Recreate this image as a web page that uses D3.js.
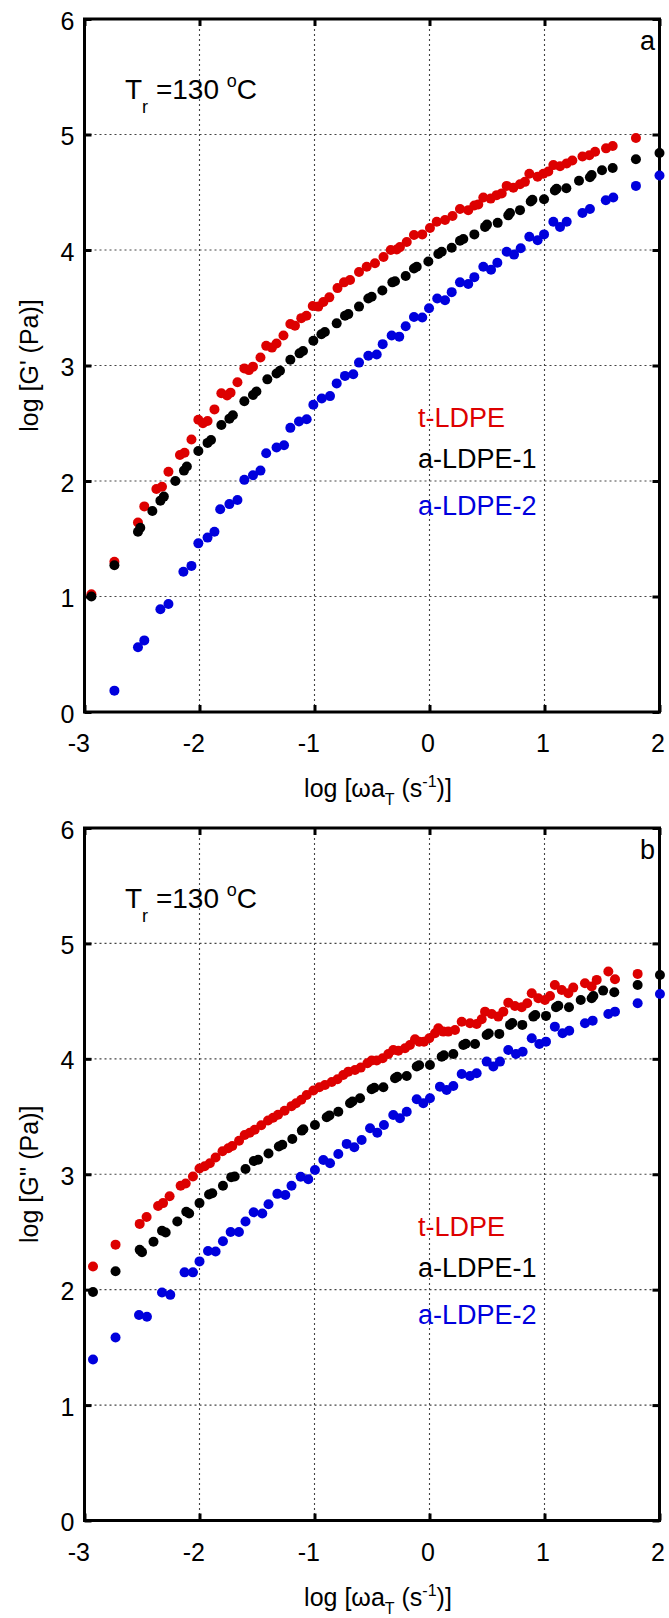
<!DOCTYPE html>
<html><head><meta charset="utf-8">
<script src="https://cdn.jsdelivr.net/npm/d3@7/dist/d3.min.js"></script>
<style>body{margin:0;background:#fff} text{font-family:"Liberation Sans",Arial,Helvetica,sans-serif}</style>
</head><body><svg id="c" width="669" height="1618"></svg>
<script>
// ---- axes / labels ----
const xTicks = [-3, -2, -1, 0, 1, 2];
const yTicks = [0, 1, 2, 3, 4, 5, 6];
const seriesNames = ["t-LDPE", "a-LDPE-1", "a-LDPE-2"];
const seriesColors = ["#dd0000", "#000000", "#0000dd"];
const panelLetters = ["a", "b"];
const yTitles = ["log [G' (Pa)]", "log [G'' (Pa)]"];

// ---- panel a: G' ----
const gp_tLDPE = [[-2.94,1.02],[-2.74,1.30],[-2.535,1.64],[-2.48,1.78],[-2.375,1.93],[-2.326,1.95],[-2.27,2.08],[-2.17,2.225],[-2.13,2.245],[-2.07,2.36],[-2.01,2.53],[-1.97,2.50],[-1.93,2.52],[-1.87,2.62],[-1.81,2.76],[-1.76,2.74],[-1.73,2.765],[-1.67,2.855],[-1.61,2.975],[-1.57,2.96],[-1.535,2.99],[-1.47,3.07],[-1.42,3.17],[-1.37,3.155],[-1.33,3.19],[-1.27,3.26],[-1.21,3.36],[-1.17,3.345],[-1.115,3.41],[-1.07,3.43],[-1.015,3.515],[-0.967,3.51],[-0.923,3.55],[-0.871,3.59],[-0.80,3.67],[-0.743,3.72],[-0.691,3.74],[-0.613,3.81],[-0.546,3.855],[-0.474,3.885],[-0.40,3.94],[-0.337,4.0],[-0.285,4.005],[-0.257,4.025],[-0.198,4.07],[-0.135,4.13],[-0.063,4.135],[0.004,4.19],[0.063,4.245],[0.135,4.26],[0.20,4.295],[0.265,4.355],[0.337,4.345],[0.39,4.385],[0.424,4.395],[0.468,4.455],[0.532,4.445],[0.584,4.475],[0.628,4.49],[0.671,4.555],[0.729,4.54],[0.787,4.57],[0.83,4.59],[0.868,4.66],[0.94,4.635],[0.99,4.66],[1.033,4.68],[1.077,4.735],[1.135,4.725],[1.193,4.75],[1.242,4.775],[1.33,4.81],[1.39,4.82],[1.44,4.85],[1.535,4.88],[1.593,4.90],[1.795,4.97]];
const gp_aLDPE1 = [[-2.94,1.00],[-2.74,1.27],[-2.535,1.56],[-2.515,1.595],[-2.41,1.74],[-2.34,1.83],[-2.31,1.865],[-2.21,2.0],[-2.135,2.09],[-2.11,2.125],[-2.01,2.26],[-1.93,2.33],[-1.90,2.355],[-1.81,2.485],[-1.74,2.54],[-1.71,2.57],[-1.61,2.69],[-1.535,2.745],[-1.505,2.775],[-1.41,2.88],[-1.33,2.93],[-1.30,2.955],[-1.21,3.05],[-1.13,3.105],[-1.10,3.125],[-1.01,3.215],[-0.94,3.27],[-0.91,3.29],[-0.807,3.365],[-0.735,3.43],[-0.706,3.445],[-0.613,3.51],[-0.532,3.58],[-0.503,3.595],[-0.41,3.65],[-0.323,3.72],[-0.30,3.73],[-0.207,3.775],[-0.135,3.84],[-0.111,3.855],[-0.01,3.90],[0.077,3.965],[0.106,3.985],[0.193,4.02],[0.265,4.08],[0.294,4.095],[0.39,4.135],[0.483,4.20],[0.50,4.22],[0.593,4.235],[0.685,4.30],[0.70,4.32],[0.787,4.345],[0.88,4.42],[0.895,4.435],[0.996,4.44],[1.09,4.515],[1.105,4.53],[1.19,4.535],[1.30,4.60],[1.395,4.63],[1.41,4.65],[1.50,4.69],[1.593,4.71],[1.795,4.785],[2.0,4.84]];
const gp_aLDPE2 = [[-2.74,0.185],[-2.535,0.56],[-2.48,0.62],[-2.34,0.89],[-2.27,0.935],[-2.14,1.215],[-2.07,1.265],[-2.01,1.46],[-1.93,1.51],[-1.87,1.56],[-1.82,1.755],[-1.74,1.80],[-1.67,1.835],[-1.61,2.01],[-1.535,2.05],[-1.47,2.09],[-1.42,2.24],[-1.33,2.29],[-1.265,2.31],[-1.21,2.46],[-1.135,2.515],[-1.068,2.535],[-1.01,2.66],[-0.937,2.715],[-0.865,2.735],[-0.807,2.845],[-0.735,2.91],[-0.663,2.925],[-0.613,3.025],[-0.532,3.085],[-0.459,3.095],[-0.407,3.185],[-0.329,3.26],[-0.263,3.25],[-0.207,3.34],[-0.135,3.42],[-0.063,3.415],[-0.004,3.495],[0.067,3.58],[0.135,3.565],[0.193,3.635],[0.265,3.72],[0.337,3.705],[0.39,3.765],[0.468,3.855],[0.535,3.83],[0.59,3.89],[0.671,3.985],[0.735,3.96],[0.793,4.015],[0.868,4.115],[0.94,4.085],[0.996,4.135],[1.077,4.245],[1.135,4.20],[1.193,4.245],[1.33,4.32],[1.395,4.355],[1.533,4.43],[1.598,4.455],[1.795,4.555],[2.0,4.645]];

// ---- panel b: G'' ----
const gpp_tLDPE = [[-2.926,2.20],[-2.73,2.39],[-2.52,2.57],[-2.46,2.63],[-2.36,2.725],[-2.317,2.75],[-2.26,2.81],[-2.164,2.90],[-2.12,2.92],[-2.057,2.98],[-2.0,3.05],[-1.955,3.07],[-1.91,3.095],[-1.86,3.145],[-1.80,3.20],[-1.75,3.225],[-1.715,3.245],[-1.656,3.29],[-1.607,3.34],[-1.563,3.36],[-1.52,3.385],[-1.463,3.425],[-1.404,3.465],[-1.36,3.49],[-1.317,3.515],[-1.26,3.55],[-1.20,3.59],[-1.16,3.615],[-1.115,3.645],[-1.068,3.687],[-1.01,3.725],[-0.958,3.754],[-0.909,3.774],[-0.85,3.80],[-0.80,3.823],[-0.75,3.86],[-0.706,3.889],[-0.648,3.904],[-0.598,3.924],[-0.54,3.962],[-0.503,3.985],[-0.459,3.985],[-0.407,4.005],[-0.358,4.042],[-0.315,4.077],[-0.271,4.071],[-0.213,4.092],[-0.17,4.12],[-0.126,4.17],[-0.089,4.149],[-0.048,4.149],[-0.002,4.178],[0.048,4.222],[0.077,4.265],[0.12,4.236],[0.163,4.236],[0.222,4.25],[0.28,4.322],[0.352,4.308],[0.41,4.302],[0.454,4.343],[0.483,4.409],[0.541,4.389],[0.598,4.366],[0.642,4.409],[0.685,4.487],[0.743,4.458],[0.802,4.447],[0.85,4.482],[0.889,4.568],[0.946,4.525],[1.004,4.51],[1.048,4.545],[1.09,4.64],[1.15,4.597],[1.207,4.568],[1.25,4.617],[1.352,4.655],[1.41,4.626],[1.454,4.684],[1.555,4.756],[1.613,4.69],[1.81,4.736]];
const gpp_aLDPE1 = [[-2.926,1.98],[-2.73,2.16],[-2.52,2.345],[-2.50,2.325],[-2.40,2.415],[-2.326,2.51],[-2.294,2.495],[-2.193,2.59],[-2.115,2.675],[-2.09,2.66],[-2.0,2.75],[-1.917,2.825],[-1.889,2.835],[-1.796,2.90],[-1.724,2.975],[-1.694,2.98],[-1.60,3.045],[-1.528,3.115],[-1.49,3.125],[-1.40,3.18],[-1.31,3.24],[-1.28,3.255],[-1.193,3.305],[-1.11,3.378],[-1.097,3.39],[-0.996,3.427],[-0.894,3.494],[-0.87,3.51],[-0.793,3.542],[-0.691,3.615],[-0.67,3.63],[-0.604,3.659],[-0.503,3.737],[-0.48,3.75],[-0.401,3.754],[-0.30,3.832],[-0.28,3.845],[-0.198,3.852],[-0.111,3.933],[-0.09,3.945],[0.004,3.947],[0.106,4.019],[0.125,4.03],[0.207,4.042],[0.294,4.12],[0.315,4.13],[0.396,4.129],[0.497,4.207],[0.515,4.22],[0.607,4.216],[0.70,4.294],[0.72,4.31],[0.807,4.294],[0.903,4.366],[0.92,4.38],[1.013,4.372],[1.10,4.447],[1.12,4.46],[1.213,4.447],[1.315,4.51],[1.41,4.525],[1.425,4.545],[1.51,4.591],[1.607,4.577],[1.81,4.64],[2.004,4.727]];
const gpp_aLDPE2 = [[-2.926,1.395],[-2.73,1.585],[-2.526,1.78],[-2.457,1.765],[-2.326,1.975],[-2.254,1.955],[-2.13,2.15],[-2.057,2.15],[-2.0,2.245],[-1.926,2.335],[-1.86,2.33],[-1.796,2.42],[-1.729,2.50],[-1.657,2.50],[-1.60,2.59],[-1.529,2.67],[-1.454,2.66],[-1.40,2.74],[-1.323,2.83],[-1.254,2.82],[-1.20,2.90],[-1.12,2.979],[-1.054,2.957],[-0.996,3.037],[-0.923,3.124],[-0.865,3.095],[-0.793,3.176],[-0.72,3.263],[-0.654,3.234],[-0.59,3.297],[-0.517,3.399],[-0.454,3.36],[-0.396,3.427],[-0.315,3.514],[-0.257,3.485],[-0.198,3.542],[-0.111,3.65],[-0.054,3.615],[0.004,3.659],[0.091,3.759],[0.149,3.73],[0.207,3.765],[0.28,3.869],[0.352,3.852],[0.41,3.875],[0.497,3.976],[0.555,3.933],[0.613,3.976],[0.685,4.077],[0.752,4.042],[0.81,4.062],[0.889,4.178],[0.955,4.129],[1.013,4.149],[1.09,4.279],[1.157,4.222],[1.215,4.244],[1.352,4.308],[1.419,4.331],[1.555,4.389],[1.613,4.409],[1.81,4.482],[2.004,4.562]];

const panels = [
  {top: 19, bottom: 712, series: [gp_tLDPE, gp_aLDPE1, gp_aLDPE2]},
  {top: 828, bottom: 1520.5, series: [gpp_tLDPE, gpp_aLDPE1, gpp_aLDPE2]}
];

const svg = d3.select("#c");
const left = 84.5, right = 659.5;
const x = d3.scaleLinear().domain([xTicks[0], xTicks[xTicks.length-1]]).range([left, right]);
const fmt = d => String(d); // plain hyphen-minus as in the original

panels.forEach((p, pi) => {
  const y = d3.scaleLinear().domain([yTicks[0], yTicks[yTicks.length-1]]).range([p.bottom, p.top]);
  const g = svg.append("g");

  // grid
  g.selectAll(".gx").data(xTicks.slice(1, -1)).join("line")
    .attr("x1", d => x(d)).attr("x2", d => x(d)).attr("y1", p.top).attr("y2", p.bottom)
    .attr("stroke", "#444").attr("stroke-width", 1.1).attr("stroke-dasharray", "2,3");
  g.selectAll(".gy").data(yTicks.slice(1, -1)).join("line")
    .attr("y1", d => y(d)).attr("y2", d => y(d)).attr("x1", left).attr("x2", right)
    .attr("stroke", "#444").attr("stroke-width", 1.1).attr("stroke-dasharray", "2,3");

  // axes (ticks inward)
  const ax = (gen, tr) => {
    const a = g.append("g").attr("transform", tr).call(gen);
    a.select(".domain").remove();
    a.selectAll(".tick line").attr("stroke", "#000").attr("stroke-width", 3);
    return a;
  };
  const bx = ax(d3.axisBottom(x).tickValues(xTicks).tickSize(-7).tickFormat(fmt), `translate(0,${p.bottom})`);
  bx.selectAll("text").attr("font-size", 25).attr("fill", "#000").attr("text-anchor", "end")
    .attr("x", 5).attr("y", 40).attr("dy", 0).style("font-family", "'Liberation Sans',Arial,sans-serif");
  ax(d3.axisTop(x).tickValues(xTicks).tickSize(-7).tickFormat(""), `translate(0,${p.top})`);
  const ly = ax(d3.axisLeft(y).tickValues(yTicks).tickSize(-7).tickFormat(fmt), `translate(${left},0)`);
  ly.selectAll("text").attr("font-size", 25).attr("fill", "#000").attr("text-anchor", "end")
    .attr("x", -10).attr("dy", 10).style("font-family", "'Liberation Sans',Arial,sans-serif");
  ax(d3.axisRight(y).tickValues(yTicks).tickSize(-7).tickFormat(""), `translate(${right},0)`);

  // frame
  g.append("rect").attr("x", left).attr("y", p.top).attr("width", right - left).attr("height", p.bottom - p.top)
    .attr("fill", "none").attr("stroke", "#000").attr("stroke-width", 3);

  // data
  p.series.forEach((s, si) => {
    g.append("g").selectAll("circle").data(s).join("circle")
      .attr("cx", d => x(d[0])).attr("cy", d => y(d[1])).attr("r", 5)
      .attr("fill", seriesColors[si]);
  });

  // legend
  const legOff = [408, 449, 496];
  seriesNames.forEach((n, i) => {
    g.append("text").attr("x", 418).attr("y", p.top + legOff[i]).attr("font-size", 27)
      .attr("fill", seriesColors[i]).text(n);
  });

  // panel letter
  g.append("text").attr("x", 655).attr("y", p.top + 31).attr("font-size", 27)
    .attr("text-anchor", "end").text(panelLetters[pi]);

  // Tr label
  const tr = g.append("text").attr("x", 125).attr("y", p.top + 80).attr("font-size", 28);
  tr.append("tspan").text("T");
  tr.append("tspan").attr("font-size", 18).attr("dy", 14).text("r");
  tr.append("tspan").attr("dy", -14).text(" =130 ");
  tr.append("tspan").attr("font-size", 18).attr("dy", -12).text("o");
  tr.append("tspan").attr("dy", 12).text("C");

  // x title
  const xt = g.append("text").attr("x", 378).attr("y", p.bottom + 85).attr("font-size", 25).attr("text-anchor", "middle");
  xt.append("tspan").text("log [ωa");
  xt.append("tspan").attr("font-size", 16).attr("dy", 8).text("T");
  xt.append("tspan").attr("dy", -8).text(" (s");
  xt.append("tspan").attr("font-size", 16).attr("dy", -10).text("-1");
  xt.append("tspan").attr("dy", 10).text(")]");

  // y title
  g.append("text").attr("transform", `translate(38,${(p.top + p.bottom) / 2}) rotate(-90)`)
    .attr("font-size", 25).attr("text-anchor", "middle").text(yTitles[pi]);
});
</script></body></html>
